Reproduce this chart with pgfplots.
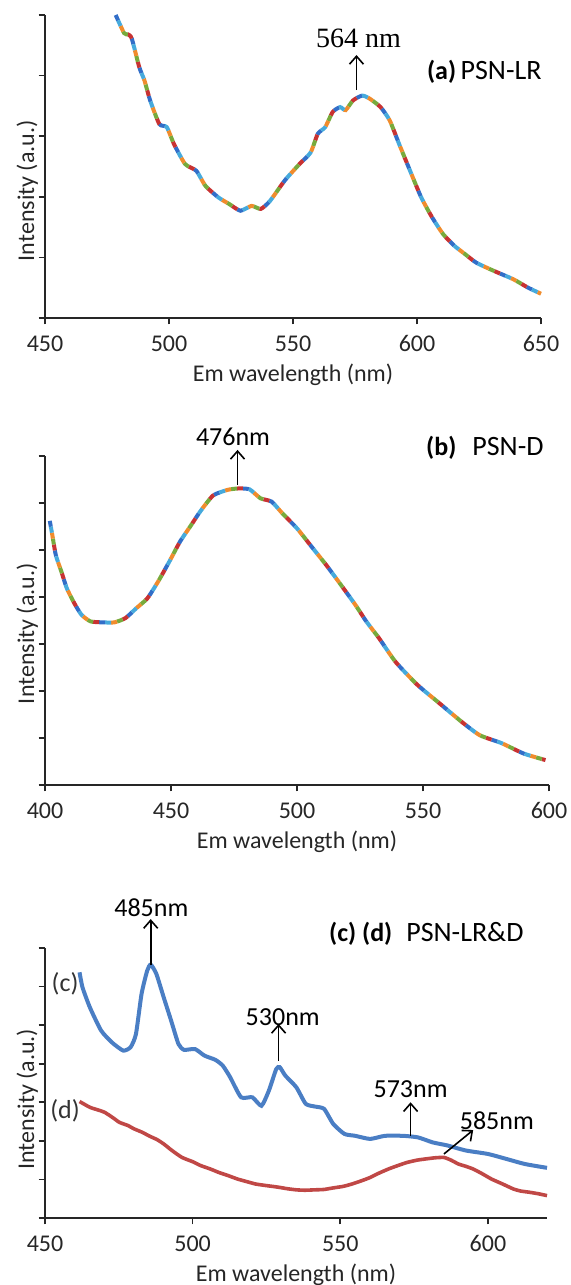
\documentclass[border=0pt]{standalone}
\usepackage{fontspec}
\setmainfont{Carlito}
\newfontfamily\serifann{Liberation Serif}
\usepackage{pgfplots}
\usepackage{pgfplotstable}
\pgfplotsset{compat=1.18}
\usetikzlibrary{arrows.meta}

\definecolor{cblue}{RGB}{74,126,196}
\definecolor{cred}{RGB}{192,72,70}
\definecolor{mR}{RGB}{200,50,50}
\definecolor{mG}{RGB}{120,170,60}
\definecolor{mB}{RGB}{50,110,200}
\definecolor{mO}{RGB}{240,140,45}
\definecolor{mC}{RGB}{70,170,220}

\pgfplotstableread{
x y
478.5 5.00
481.9 4.70
483.5 4.68
485.0 4.61
488.0 4.14
490.1 3.92
492.4 3.59
496.1 3.20
499.1 3.15
502.0 2.87
506.5 2.54
511.0 2.43
514.7 2.18
519.9 1.99
524.3 1.88
528.8 1.77
533.3 1.85
537.0 1.80
540.7 1.93
546.7 2.27
552.6 2.54
557.1 2.73
560.0 3.04
563.0 3.15
566.0 3.40
569.0 3.48
571.2 3.43
574.2 3.59
577.9 3.67
580.9 3.62
585.3 3.48
589.0 3.26
592.8 2.87
597.2 2.43
601.7 1.99
606.1 1.66
610.6 1.38
615.1 1.19
619.5 1.05
624.0 0.91
631.4 0.77
638.8 0.64
644.8 0.50
650.0 0.40
}\dataA

\pgfplotstableread{
x y
401.9 5.62
402.9 5.32
404.3 4.89
406.5 4.54
408.7 4.18
411.6 3.87
414.5 3.62
418.1 3.48
423.2 3.46
427.5 3.46
431.9 3.55
436.2 3.76
440.6 3.97
444.9 4.33
449.3 4.75
453.6 5.18
458.0 5.53
461.6 5.82
466.7 6.16
472.5 6.28
476.8 6.31
481.2 6.29
485.5 6.10
489.9 6.03
494.2 5.78
500.0 5.46
505.8 5.07
511.6 4.68
517.4 4.26
523.2 3.83
527.5 3.48
532.6 3.12
539.1 2.62
547.8 2.13
556.5 1.74
565.2 1.35
572.5 1.06
581.2 0.89
589.9 0.67
598.6 0.53
}\dataB

\pgfplotstableread{
x y
461.7 6.37
462.7 5.98
465.2 5.46
469.0 4.86
472.7 4.55
476.5 4.34
479.0 4.43
480.8 4.77
482.7 5.81
484.6 6.41
485.8 6.57
487.7 6.33
490.2 5.72
492.7 5.12
495.2 4.51
497.1 4.36
500.8 4.38
504.0 4.21
507.7 4.10
510.2 3.95
512.7 3.65
516.4 3.13
520.2 3.13
523.3 2.91
525.8 3.30
528.3 3.86
529.5 3.91
531.4 3.69
535.1 3.39
538.3 2.96
541.4 2.89
544.5 2.83
547.6 2.44
551.4 2.18
555.1 2.13
560.1 2.05
565.1 2.13
571.3 2.13
576.3 2.09
581.3 1.96
586.3 1.88
592.5 1.75
600.0 1.66
606.3 1.53
612.5 1.40
620.0 1.30
}\dataC

\pgfplotstableread{
x y
461.7 3.02
465.2 2.87
468.0 2.80
470.2 2.74
473.0 2.60
475.2 2.48
478.0 2.40
480.2 2.31
483.0 2.22
485.2 2.13
488.0 2.03
490.2 1.92
493.0 1.75
496.4 1.57
500.0 1.46
502.7 1.36
506.0 1.27
508.9 1.18
512.0 1.10
515.2 1.01
518.0 0.95
521.4 0.88
525.0 0.84
528.9 0.80
532.0 0.76
535.1 0.73
538.0 0.72
541.4 0.73
544.5 0.74
547.6 0.78
551.0 0.82
553.9 0.88
557.0 0.96
560.1 1.05
563.0 1.16
566.3 1.27
569.5 1.36
572.6 1.44
576.0 1.50
578.8 1.53
582.0 1.56
585.1 1.57
587.5 1.50
590.0 1.40
592.5 1.34
595.0 1.27
598.0 1.15
601.2 1.01
605.0 0.88
608.7 0.75
611.0 0.70
613.8 0.67
617.0 0.63
620.0 0.58
}\dataD

\pgfplotsset{
  panel/.style={
    scale only axis,
    anchor=south west,
    axis x line*=bottom,
    axis y line*=left,
    tick align=outside,
    major tick length=3.2pt,
    yticklabels={},
    axis line style={line width=0.8pt, black!85},
    every tick/.style={line width=0.8pt, black!85},
    tick label style={font=\fontsize{12}{14}\selectfont, text=black!85},
    xticklabel style={yshift=-2pt},
    label style={font=\fontsize{12}{14}\selectfont, text=black!85},
    /pgf/number format/assume math mode=true,
    /pgf/number format/1000 sep={},
    xtick distance=50,
    xlabel={Em wavelength (nm)},
    ylabel={Intensity (a.u.)},
    xlabel style={yshift=1pt},
    clip=false,
  },
  rainbow/.style={line width=2pt, smooth, tension=0.35, dash pattern=on 3pt off 12pt, dash phase=#1},
}
\tikzset{ann/.style={-{Straight Barb[length=4pt,width=7pt]}, line width=0.8pt, black},
  ttl/.style={anchor=east, inner sep=0pt}}

\begin{document}
\begin{tikzpicture}
\useasboundingbox (0,0) rectangle (285.5pt,642.5pt);

% ---------- (a)
\begin{axis}[panel, at={(22.5pt,483.5pt)}, width=248pt, height=151.5pt,
  xmin=450, xmax=650, ymin=0, ymax=5, ytick={0,...,5},
  y label style={at={(axis description cs:0,0.42)}, anchor=south},
  ylabel shift=-2pt]
\addplot[mB, rainbow=0pt] table {\dataA};
\addplot[mR, rainbow=3pt] table {\dataA};
\addplot[mG, rainbow=6pt] table {\dataA};
\addplot[mO, rainbow=9pt] table {\dataA};
\addplot[mC, rainbow=12pt] table {\dataA};
\draw[ann] (575.6,3.76) -- (575.6,4.34);
\node[font=\serifann\fontsize{14}{16}\selectfont] at (576.4,4.61) {564 nm};
\node[ttl] at (650.4,4.06) {{\fontsize{13}{15}\selectfont\bfseries (a)} {\fontsize{14}{16}\selectfont PSN-LR}};
\end{axis}

% ---------- (b)
\begin{axis}[panel, at={(22.5pt,250pt)}, width=252pt, height=164.5pt,
  xmin=400, xmax=600, ymin=0, ymax=7, ytick={0,...,7},
  y label style={at={(axis description cs:0,0.46)}, anchor=south},
  ylabel shift=-2pt]
\addplot[mB, rainbow=0pt] table {\dataB};
\addplot[mR, rainbow=3pt] table {\dataB};
\addplot[mG, rainbow=6pt] table {\dataB};
\addplot[mO, rainbow=9pt] table {\dataB};
\addplot[mC, rainbow=12pt] table {\dataB};
\draw[ann] (476.4,6.38) -- (476.4,7.13);
\node[font=\fontsize{13}{15}\selectfont] at (474.6,7.41) {476nm};
\node[ttl] at (598,7.17) {{\fontsize{13}{15}\selectfont\bfseries (b)}\hspace{8pt}{\fontsize{14}{16}\selectfont PSN-D}};
\end{axis}

% ---------- (c)(d)
\begin{axis}[panel, at={(22.5pt,33.5pt)}, width=251pt, height=135pt,
  xmin=450, xmax=620, ymin=0, ymax=7, ytick={0,...,7},
  y label style={at={(axis description cs:0,0.44)}, anchor=south},
  ylabel shift=-2pt]
\addplot[cblue, line width=2pt, smooth, tension=0.35] table {\dataC};
\addplot[cred, line width=1.8pt, smooth, tension=0.35] table {\dataD};
\draw[ann] (485.8,6.55) -- (485.8,7.75);
\node[font=\fontsize{13}{15}\selectfont] at (486,8.05) {485nm};
\draw[ann] (529.1,4.08) -- (529.1,5.03);
\node[font=\fontsize{13}{15}\selectfont] at (530.5,5.2) {530nm};
\draw[ann] (573.8,2.13) -- (573.8,3.0);
\node[font=\fontsize{13}{15}\selectfont] at (573.8,3.35) {573nm};
\draw[ann] (585.1,1.66) -- (595,2.28);
\node[font=\fontsize{13}{15}\selectfont] at (603,2.52) {585nm};
\node[font=\fontsize{13}{15}\selectfont, text=black!80] at (456.8,6.07) {(c)};
\node[font=\fontsize{13}{15}\selectfont, text=black!80] at (456.8,2.78) {(d)};
\node[ttl] at (612.2,7.36) {{\fontsize{13}{15}\selectfont\bfseries (c) (d)}\hspace{7pt}{\fontsize{14}{16}\selectfont PSN-LR\&D}};
\end{axis}
\end{tikzpicture}
\end{document}
